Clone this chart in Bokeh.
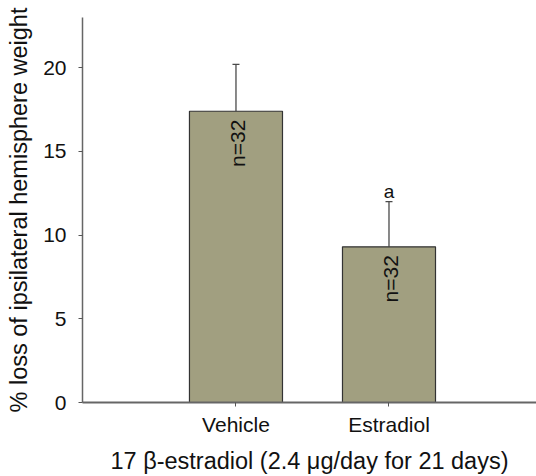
import math
from bokeh.plotting import figure
from bokeh.models import ColumnDataSource, FixedTicker, Range1d, Whisker, TeeHead
from bokeh.core.properties import value
from bokeh.embed import file_html
from bokeh.resources import INLINE

# ---- data ----
categories = ["Vehicle", "Estradiol"]
means = [17.4, 9.3]
errors = [2.8, 2.7]
n_labels = ["n=32", "n=32"]
sig_labels = ["", "a"]
y_ticks = [0, 5, 10, 15, 20]

FONT = "Liberation Sans"

xs = [i + 1 for i in range(len(categories))]
upper = [m + e for m, e in zip(means, errors)]
src = ColumnDataSource(dict(x=xs, top=means, upper=upper, n=n_labels,
                            sig=sig_labels, ntxt_y=[m - 0.5 for m in means],
                            sig_y=[u + 0.6 for u in upper]))

p = figure(width=536, height=476, output_backend="svg", toolbar_location=None,
           x_range=Range1d(-0.003, 2.964), y_range=Range1d(0, 23),
           min_border_left=82, min_border_top=17, min_border_bottom=73,
           min_border_right=0)
p.outline_line_color = None
p.grid.visible = False
p.background_fill_color = "white"

p.vbar(x="x", top="top", bottom=0, width=0.608, source=src,
       fill_color="#a19f80", line_color="#333333", line_width=1.2)

wk = Whisker(base="x", upper="upper", lower="top", source=src,
             line_color="#4a4a4a", line_width=1.3,
             upper_head=TeeHead(size=7, line_color="#4a4a4a", line_width=1.3),
             lower_head=None)
p.add_layout(wk)

p.text(x="x", y="ntxt_y", text="n", source=src, angle=math.pi / 2,
       text_align="right", text_baseline="middle", x_offset=2,
       text_font=value(FONT), text_font_size="21px", text_color="#111111")
p.text(x="x", y="sig_y", text="sig", source=src,
       text_align="center", text_baseline="alphabetic",
       text_font=value(FONT), text_font_size="19px", text_color="#111111")

# axes
p.xaxis.ticker = FixedTicker(ticks=xs)
p.xaxis.major_label_overrides = {x: c for x, c in zip(xs, categories)}
p.yaxis.ticker = FixedTicker(ticks=y_ticks)
for ax in (p.xaxis[0], p.yaxis[0]):
    ax.major_tick_in = 0
    ax.major_tick_out = 4
    ax.minor_tick_line_color = None
    ax.major_tick_line_color = "#555555"
    ax.axis_line_color = "#666666"
    ax.major_label_text_font = FONT
    ax.major_label_text_color = "#111111"
    ax.major_label_text_font_size = "21px"
    ax.axis_label_text_font = FONT
    ax.axis_label_text_font_style = "normal"
    ax.axis_label_text_color = "#111111"
    ax.axis_label_text_font_size = "23.5px"
p.xaxis.axis_line_width = 2
p.yaxis.axis_line_width = 1.5
p.yaxis.major_label_standoff = 12
p.xaxis.major_label_standoff = 6
p.xaxis.axis_label = "17 \u03b2-estradiol (2.4 \u03bcg/day for 21 days)"
p.yaxis.axis_label = "% loss of ipsilateral hemisphere weight"
p.xaxis.axis_label_standoff = 9
p.yaxis.axis_label_standoff = 8

open("out.html", "w").write(file_html(p, INLINE))
